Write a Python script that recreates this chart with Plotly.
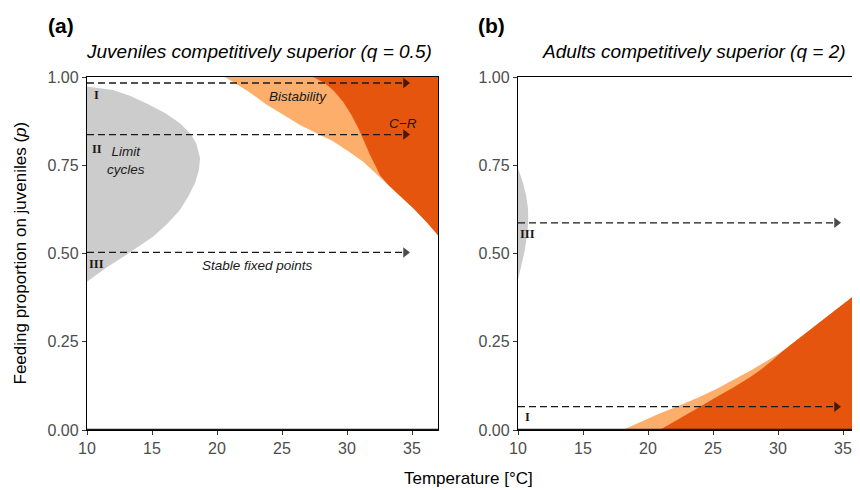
import plotly.graph_objects as go

# ---------------- data ----------------
# Panel (a): juveniles competitively superior (q = 0.5)
grey_a_T = [10, 10.75, 12.0, 13.3, 14.6, 16.0, 17.15, 18.0, 18.4, 18.7, 18.6, 18.3, 17.8, 17.15, 16.2, 15.1, 14.0, 12.8, 11.5, 10.1, 10]
grey_a_p = [0.973, 0.970, 0.963, 0.947, 0.925, 0.898, 0.869, 0.838, 0.812, 0.770, 0.735, 0.699, 0.662, 0.623, 0.585, 0.548, 0.520, 0.491, 0.460, 0.425, 0.420]

# lower edge of the bistability / C-R zone (white boundary)
lower_a_T = [20.6, 22.3, 23.8, 25.1, 26.38, 27.7, 28.95, 30.1, 31.25, 32.2, 33.18, 34.1, 35.1, 36.1, 37.0]
lower_a_p = [1.0, 0.962, 0.922, 0.893, 0.864, 0.840, 0.817, 0.790, 0.760, 0.728, 0.694, 0.662, 0.628, 0.590, 0.552]

# boundary between bistability and C-R
cr_a_T = [27.4, 28.3, 29.0, 29.7, 30.3, 30.87, 31.35, 31.77, 32.2, 32.54, 33.18]
cr_a_p = [1.0, 0.982, 0.960, 0.930, 0.895, 0.855, 0.815, 0.779, 0.748, 0.722, 0.694]

arrows_a_p = [0.983, 0.837, 0.503]
arrows_a_lab = ["I", "II", "III"]
labels_a_p = [0.948, 0.795, 0.470]

# Panel (b): adults competitively superior (q = 2)
grey_b_T = [10, 10.35, 10.62, 10.76, 10.79, 10.72, 10.5, 10.25, 10]
grey_b_p = [0.741, 0.705, 0.665, 0.630, 0.600, 0.555, 0.505, 0.465, 0.425]

# upper edge of the bistability zone (joins the C-R edge at its last point)
bist_b_T = [18.05, 19.5, 20.8, 22.2, 24.0, 25.3, 26.56, 28.0, 29.2, 30.3]
bist_b_p = [0.0, 0.024, 0.045, 0.066, 0.094, 0.117, 0.142, 0.171, 0.197, 0.222]

# upper edge of the C-R zone
cr_b_T = [20.9, 22.4, 24.0, 25.3, 26.6, 27.9, 28.8, 29.6, 30.3, 31.28, 32.7, 34.1, 35.2, 36.3, 37.0]
cr_b_p = [0.0, 0.031, 0.066, 0.094, 0.121, 0.151, 0.174, 0.198, 0.222, 0.250, 0.290, 0.330, 0.362, 0.392, 0.413]

arrows_b_p = [0.587, 0.066]
arrows_b_lab = ["III", "I"]
labels_b_p = [0.556, 0.036]

x_ticks = [10, 15, 20, 25, 30, 35]
y_ticks = [0, 0.25, 0.5, 0.75, 1.0]
y_tick_text = ["0.00", "0.25", "0.50", "0.75", "1.00"]

GREY = "#CCCCCC"
LIGHT = "#FDAE6B"
DARK = "#E6550D"
FONT = "Liberation Sans, Arial, sans-serif"

# ---------------- layout geometry ----------------
OFF = 8  # page body margin
W, H = 860 - OFF, 490 - OFF
ML, MR, MT, MB = 87 - OFF, 0, 77 - OFF, H - (430 - OFF)
PW = W - ML - MR
PH = H - MT - MB


def px(x):
    return (x - OFF - ML) / PW


def py(y):
    return (H - MB - (y - OFF)) / PH


fig = go.Figure()


def poly(T, p, color, xa, ya):
    fig.add_trace(go.Scatter(x=T, y=p, mode="lines", fill="toself", fillcolor=color,
                             line=dict(width=0, color=color), hoverinfo="skip",
                             showlegend=False, xaxis=xa, yaxis=ya))


# panel a regions
poly(grey_a_T, grey_a_p, GREY, "x", "y")
poly([lower_a_T[0], 40, 40] + lower_a_T[::-1], [1.0, 1.0, lower_a_p[-1]] + lower_a_p[::-1], LIGHT, "x", "y")
i_meet = lower_a_T.index(33.18)
dark_T = cr_a_T + lower_a_T[i_meet:] + [40, 40, cr_a_T[0]]
dark_p = cr_a_p + lower_a_p[i_meet:] + [lower_a_p[-1], 1.0, 1.0]
poly(dark_T, dark_p, DARK, "x", "y")

# panel b regions
poly(grey_b_T, grey_b_p, GREY, "x2", "y2")
j_merge = cr_b_T.index(bist_b_T[-1])
light_T = bist_b_T + cr_b_T[j_merge + 1:] + [40, 40]
light_p = bist_b_p + cr_b_p[j_merge + 1:] + [cr_b_p[-1], 0.0]
poly(light_T, light_p, LIGHT, "x2", "y2")
poly(cr_b_T + [40, 40], cr_b_p + [cr_b_p[-1], 0.0], DARK, "x2", "y2")

ARROW_START, ARROW_END = 10, 34.5


def arrows(levels, xa, ya):
    for lv in levels:
        fig.add_trace(go.Scatter(x=[ARROW_START, ARROW_END], y=[lv, lv], mode="lines+markers",
                                 line=dict(color="#1a1a1a", width=1.3, dash="7px,4px"),
                                 marker=dict(symbol="triangle-right", size=[0, 9], color="#000000",
                                             line=dict(width=0)),
                                 hoverinfo="skip", showlegend=False, xaxis=xa, yaxis=ya))


arrows(arrows_a_p, "x", "y")
arrows(arrows_b_p, "x2", "y2")

ann = []
serif = dict(family="Liberation Serif, Times New Roman, serif", size=12.5, color="#1a1a1a")
for lab, lv in zip(arrows_a_lab, labels_a_p):
    ann.append(dict(x=10.75, y=lv, xref="x", yref="y", text="<b>%s</b>" % lab, showarrow=False,
                    xanchor="center", yanchor="middle", font=serif))
for lab, lv in zip(arrows_b_lab, labels_b_p):
    ann.append(dict(x=10.75, y=lv, xref="x2", yref="y2", text="<b>%s</b>" % lab, showarrow=False,
                    xanchor="center", yanchor="middle", font=serif))

small = dict(family=FONT, size=13.5, color="#1a1a1a")
ann += [
    dict(x=13.0, y=0.763, xref="x", yref="y", text="<i>Limit</i><br><i>cycles</i>", showarrow=False, font=small),
    dict(x=26.25, y=0.944, xref="x", yref="y", text="<i>Bistability</i>", showarrow=False, font=small),
    dict(x=34.28, y=0.869, xref="x", yref="y", text="<i>C\u2212R</i>", showarrow=False, font=small),
    dict(x=23.15, y=0.465, xref="x", yref="y", text="<i>Stable fixed points</i>", showarrow=False, font=small),
]


def page_text(x, y, text, size, bold=False, angle=0):
    return dict(x=px(x), y=py(y), xref="paper", yref="paper", xanchor="center", yanchor="middle",
                text=("<b>%s</b>" % text) if bold else text, showarrow=False, textangle=angle,
                font=dict(family=FONT, size=size, color="black"))


ann += [
    page_text(61, 25, "(a)", 21, bold=True),
    page_text(491, 25, "(b)", 21, bold=True),
    page_text(259, 51, "<i>Juveniles competitively superior (q = 0.5)</i>", 19),
    page_text(694, 51, "<i>Adults competitively superior (q = 2)</i>", 19),
    page_text(20, 253.5, "Feeding proportion on juveniles (<i>p</i>)", 17, angle=-90),
    page_text(468, 478, "Temperature [\u00b0C]", 17),
]

left_w = 351
dom_a = [0, left_w / PW]
dom_b = [px(518), 1.0]
range_a = [10, 10 + left_w / 13.0]
range_b = [10, 10 + (860 - 518) / 13.0]

axis_common = dict(showgrid=False, zeroline=False, showline=True, linecolor="black", linewidth=1.3,
                   ticks="outside", ticklen=4, tickwidth=1.1, tickcolor="#333333",
                   tickfont=dict(family=FONT, size=16, color="#4D4D4D"))

fig.update_layout(
    width=W, height=H, margin=dict(l=ML, r=MR, t=MT, b=MB),
    plot_bgcolor="white", paper_bgcolor="white", showlegend=False,
    xaxis=dict(domain=dom_a, range=range_a, tickvals=x_ticks, mirror=True, anchor="y", **axis_common),
    yaxis=dict(domain=[0, 1], range=[0, 1], tickvals=y_ticks, ticktext=y_tick_text, mirror=True,
               anchor="x", **axis_common),
    xaxis2=dict(domain=dom_b, range=range_b, tickvals=x_ticks, mirror=True, anchor="y2", **axis_common),
    yaxis2=dict(domain=[0, 1], range=[0, 1], tickvals=y_ticks, ticktext=y_tick_text, mirror=False,
                anchor="x2", **axis_common),
    annotations=ann,
    shapes=[
        dict(type="line", xref="x domain", yref="y", x0=0, x1=1, y0=0, y1=0,
             line=dict(color="#1a1a1a", width=2.6)),
        dict(type="line", xref="x2 domain", yref="y2", x0=0, x1=1, y0=0, y1=0,
             line=dict(color="#1a1a1a", width=2.6)),
    ],
)

fig.write_html("out.html")
